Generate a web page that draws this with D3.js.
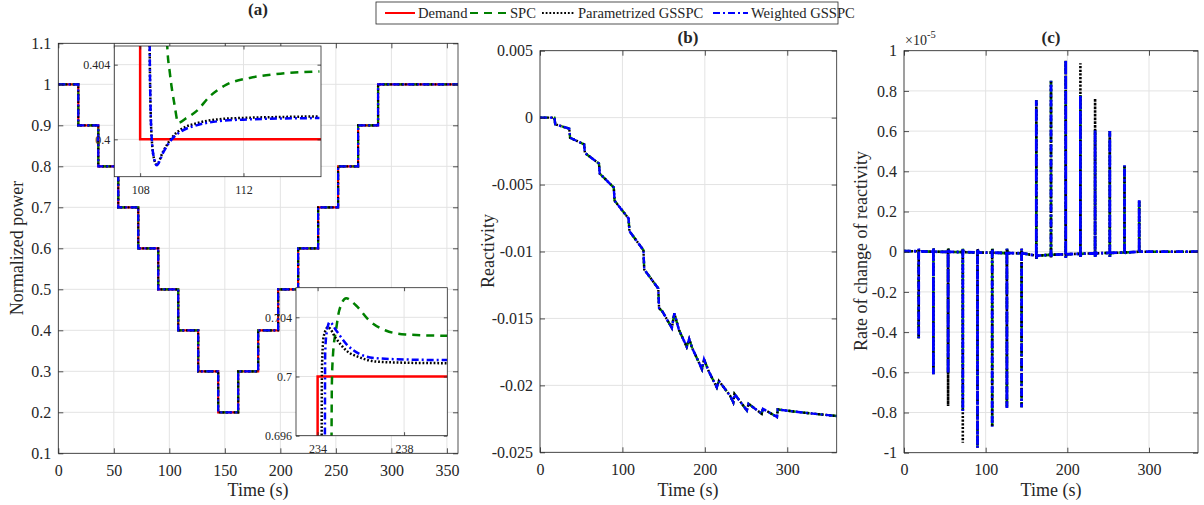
<!DOCTYPE html>
<html>
<head>
<meta charset="utf-8">
<script src="https://cdn.jsdelivr.net/npm/d3@7"></script>
<style>
  body { margin: 0; background: #fff; }
</style>
</head>
<body>
<svg id="fig" width="1204" height="505"></svg>
<script>
// ---- data ----
// (a) demand staircase: level i holds from stepTimes[i] to stepTimes[i+1]
const stepTimes = [0, 18, 36, 54, 72, 90, 108, 126, 144, 162, 180, 198, 216, 234, 252, 270, 288, 360]
const demandLevels = [1, 0.9, 0.8, 0.7, 0.6, 0.5, 0.4, 0.3, 0.2, 0.3, 0.4, 0.5, 0.6, 0.7, 0.8, 0.9, 1]

// inset 1 (around t = 108), [time, power]
const ins1Demand = [[107, 0.5], [108, 0.5], [108, 0.4], [115, 0.4]]
const ins1Spc = [[108.9, 0.43], [109.05, 0.40498], [109.15, 0.40356], [109.34, 0.40178], [109.47, 0.40089],
  [109.8, 0.40115], [110.18, 0.40151], [110.7, 0.40231], [111.34, 0.40293], [112.24, 0.40329], [113.27, 0.4035], [114.94, 0.40364]]
const ins1Param = [[108.3, 0.43], [108.38, 0.4035], [108.45, 0.4], [108.55, 0.3989], [108.64, 0.39866], [108.89, 0.39935],
  [109.22, 0.40008], [109.6, 0.40055], [110.18, 0.40086], [111.08, 0.40108], [112.24, 0.40116], [113.53, 0.4012], [114.94, 0.40123]]
const ins1Weighted = [[108.3, 0.43], [108.38, 0.4035], [108.45, 0.4], [108.55, 0.3989], [108.64, 0.39861], [108.89, 0.39929],
  [109.22, 0.4], [109.6, 0.40044], [110.18, 0.40075], [111.08, 0.40098], [112.24, 0.40107], [113.53, 0.40112], [114.94, 0.40114]]

// inset 2 (around t = 234)
const ins2Demand = [[233, 0.6], [234, 0.6], [234, 0.7], [240, 0.7]]
const ins2Spc = [[234.63, 0.69], [234.66, 0.6995], [234.71, 0.70142], [234.86, 0.70322], [235.0, 0.70446], [235.32, 0.70529],
  [235.78, 0.7048], [236.39, 0.70378], [237.15, 0.70311], [238.07, 0.70284], [240, 0.70275]]
const ins2Param = [[234.18, 0.69], [234.2, 0.7005], [234.28, 0.7027], [234.48, 0.70333], [234.86, 0.70255], [235.32, 0.70176],
  [235.93, 0.7013], [236.7, 0.70101], [238.07, 0.70093], [240, 0.7009]]
const ins2Weighted = [[234.33, 0.69], [234.35, 0.7015], [234.4, 0.70275], [234.56, 0.70367], [234.86, 0.70311], [235.32, 0.70221],
  [235.93, 0.70153], [236.7, 0.70124], [238.07, 0.70115], [240, 0.70111]]

// (b) reactivity
const reactTime = [0, 17.5, 18.5, 35.5, 36.5, 53.5, 54.5, 71.5, 72.5, 89.5, 90.5, 107.5, 108.5, 125.5, 126.5, 143.5, 144.5,
  148.5, 160, 163, 168.5, 178, 181, 184.5, 196.5, 199, 204.5, 214.5, 217, 230.5, 234.5, 236, 251, 253, 269, 270.5,
  287.5, 288.5, 320, 360]
const reactValue = [0, 0, -0.0005, -0.00082, -0.0015, -0.002, -0.00264, -0.00343, -0.00418, -0.00522, -0.0062, -0.00754,
  -0.00848, -0.0099, -0.01135, -0.01276, -0.01424, -0.01448, -0.01571, -0.01461, -0.01584, -0.01712, -0.01653, -0.01719,
  -0.01879, -0.01805, -0.01892, -0.02015, -0.01966, -0.02076, -0.02126, -0.02064, -0.02187, -0.02138, -0.02212, -0.02175,
  -0.02236, -0.0218, -0.02204, -0.02229]

// (c) rate of change of reactivity, x 1e-5
const spikeTimes = [18, 36, 54, 72, 90, 108, 126, 144, 162, 180, 198, 216, 234, 252, 270, 288]
const spikeBase = [0.002, 0, -0.001, -0.002, -0.004, -0.005, -0.007, -0.008, -0.02, -0.015, -0.013, -0.01, -0.008, -0.006, -0.004, 0]
const spikeRebound = [0.015, 0.015, 0.015, 0.015, 0.015, 0.015, 0.015, 0.015, -0.035, -0.03, -0.03, -0.025, -0.025, -0.025, -0.01, 0]
const spcPeaks = [-0.43, -0.61, -0.605, -0.793, -0.975, -0.871, -0.777, -0.774, 0.754, 0.851, 0.953, 0.779, 0.605, 0.601, 0.43, 0.256]
const paramPeaks = [-0.43, -0.61, -0.768, -0.951, -0.975, -0.871, -0.777, -0.774, 0.754, 0.851, 0.953, 0.937, 0.762, 0.601, 0.43, 0.256]
const weightedPeaks = [-0.43, -0.61, -0.605, -0.793, -0.975, -0.871, -0.777, -0.774, 0.754, 0.851, 0.953, 0.779, 0.605, 0.601, 0.43, 0.256]

const seriesNames = ["Demand", "SPC", "Parametrized GSSPC", "Weighted GSSPC"]
const seriesColors = ["#ff0000", "#008000", "#000000", "#0000ff"]
const seriesDash = [null, "8,6", "1.8,1.9", "7,3,2,3"]

// ---- drawing ----
const svg = d3.select("#fig")
const TXT = "#262626", GRID = "#e3e3e3"
const FONT = '"Liberation Serif"'

function stairs(times, levels) {
  let pts = []
  levels.forEach((v, i) => { pts.push([times[i], v], [times[i + 1], v]) })
  return pts
}

function ratePath(peaks) {
  let pts = [[0, 0.003]]
  spikeTimes.forEach((t, i) => {
    pts.push([t, spikeBase[i]], [t, peaks[i]], [t, spikeRebound[i]], [t + 1, spikeBase[i]])
  })
  pts.push([292, 0], [360, 0])
  return pts
}

let clipN = 0
function panel(o, draw) {
  const x = d3.scaleLinear().domain(o.xd).range([o.l, o.r])
  const y = d3.scaleLinear().domain(o.yd).range([o.b, o.t])
  const g = svg.append("g")
  g.append("rect").attr("x", o.l).attr("y", o.t).attr("width", o.r - o.l).attr("height", o.b - o.t).attr("fill", "#fff")

  // grid
  g.append("g").selectAll("line").data(o.xt).join("line")
    .attr("x1", d => x(d)).attr("x2", d => x(d)).attr("y1", o.t).attr("y2", o.b)
    .attr("stroke", GRID).attr("stroke-width", 1)
  g.append("g").selectAll("line").data(o.yt).join("line")
    .attr("y1", d => y(d)).attr("y2", d => y(d)).attr("x1", o.l).attr("x2", o.r)
    .attr("stroke", GRID).attr("stroke-width", 1)

  const id = "clip" + (clipN++)
  svg.append("clipPath").attr("id", id).append("rect")
    .attr("x", o.l).attr("y", o.t).attr("width", o.r - o.l).attr("height", o.b - o.t)
  const plot = g.append("g").attr("clip-path", `url(#${id})`)
  draw(plot, x, y)

  const fs = o.fs, tk = o.tick
  const style = a => {
    a.select(".domain").remove()
    a.attr("font-size", fs).attr("color", TXT)
    a.selectAll("text").attr("font-family", FONT).attr("fill", TXT)
    a.selectAll("line").attr("stroke-width", 0.8)
  }
  g.append("g").attr("transform", `translate(0,${o.b})`)
    .call(d3.axisBottom(x).tickValues(o.xt).tickSize(-tk).tickPadding(o.xpad).tickFormat(o.xf || String)).call(style)
  g.append("g").attr("transform", `translate(0,${o.t})`)
    .call(d3.axisTop(x).tickValues(o.xt).tickSize(-tk).tickFormat("")).call(style)
  g.append("g").attr("transform", `translate(${o.l},0)`)
    .call(d3.axisLeft(y).tickValues(o.yt).tickSize(-tk).tickPadding(o.ypad).tickFormat(o.yf || String)).call(style)
  g.append("g").attr("transform", `translate(${o.r},0)`)
    .call(d3.axisRight(y).tickValues(o.yt).tickSize(-tk).tickFormat("")).call(style)
  g.append("rect").attr("x", o.l).attr("y", o.t).attr("width", o.r - o.l).attr("height", o.b - o.t)
    .attr("fill", "none").attr("stroke", TXT).attr("stroke-width", 0.8)
  return { x, y, g }
}

function drawSeries(plot, x, y, data, idx, width) {
  const line = d3.line().x(d => x(d[0])).y(d => y(d[1]))
  plot.append("path").attr("d", line(data))
    .attr("fill", "none").attr("stroke", seriesColors[idx]).attr("stroke-width", width)
    .attr("stroke-dasharray", seriesDash[idx]).attr("stroke-linejoin", "miter")
}

function smooth(plot, x, y, data, idx, width) {
  const line = d3.line().x(d => x(d[0])).y(d => y(d[1])).curve(d3.curveMonotoneX)
  plot.append("path").attr("d", line(data))
    .attr("fill", "none").attr("stroke", seriesColors[idx]).attr("stroke-width", width)
    .attr("stroke-dasharray", seriesDash[idx])
}

const ticks = (a, b, s) => d3.range(Math.round((b - a) / s) + 1).map(i => +(a + i * s).toFixed(6))

// (a)
const demandStairs = stairs(stepTimes, demandLevels)
panel({ l: 58.3, r: 458, t: 43.3, b: 453.3, xd: [0, 360], yd: [0.1, 1.1],
  xt: [0, 50, 100, 150, 200, 250, 300, 350], yt: ticks(0.1, 1.1, 0.1), fs: 16, tick: 5, xpad: 11, ypad: 7 },
  (p, x, y) => { [0, 1, 2, 3].forEach(i => drawSeries(p, x, y, demandStairs, i, 2.2)) })

// inset 1
panel({ l: 114.3, r: 321, t: 46, b: 176.7, xd: [107, 115], yd: [0.398, 0.405],
  xt: [108, 112], yt: [0.4, 0.404], fs: 12, tick: 3.5, xpad: 9, ypad: 4 },
  (p, x, y) => {
    drawSeries(p, x, y, ins1Demand, 0, 2.5)
    smooth(p, x, y, ins1Spc, 1, 2.5)
    smooth(p, x, y, ins1Param, 2, 2.5)
    smooth(p, x, y, ins1Weighted, 3, 2.5)
  })

// inset 2
panel({ l: 296, r: 447.3, t: 287.7, b: 435.7, xd: [233, 240], yd: [0.696, 0.706],
  xt: [234, 238], yt: [0.696, 0.7, 0.704], fs: 12, tick: 3.5, xpad: 9, ypad: 4 },
  (p, x, y) => {
    drawSeries(p, x, y, ins2Demand, 0, 2.5)
    smooth(p, x, y, ins2Spc, 1, 2.5)
    smooth(p, x, y, ins2Param, 2, 2.5)
    smooth(p, x, y, ins2Weighted, 3, 2.5)
  })

// (b)
const react = reactTime.map((t, i) => [t, reactValue[i]])
panel({ l: 540, r: 836.7, t: 50.7, b: 452.3, xd: [0, 360], yd: [-0.025, 0.005],
  xt: [0, 100, 200, 300], yt: [-0.025, -0.02, -0.015, -0.01, -0.005, 0, 0.005], fs: 16, tick: 5, xpad: 11, ypad: 7 },
  (p, x, y) => { [1, 2, 3].forEach(i => drawSeries(p, x, y, react, i, 2.4)) })

// (c)
panel({ l: 904, r: 1198, t: 50.7, b: 452.7, xd: [0, 360], yd: [-1, 1],
  xt: [0, 100, 200, 300], yt: ticks(-1, 1, 0.2), fs: 16, tick: 5, xpad: 11, ypad: 7 },
  (p, x, y) => {
    drawSeries(p, x, y, ratePath(spcPeaks), 1, 2.6)
    drawSeries(p, x, y, ratePath(paramPeaks), 2, 2.6)
    drawSeries(p, x, y, ratePath(weightedPeaks), 3, 2.8)
  })

// titles and labels
const label = (x, y, s, size, rot, weight) => {
  const t = svg.append("text").attr("x", x).attr("y", y).attr("text-anchor", "middle")
    .attr("font-family", FONT).attr("fill", TXT).attr("font-size", size).text(s)
  if (weight) t.attr("font-weight", weight)
  if (rot) t.attr("transform", `rotate(-90,${x},${y})`)
  return t
}
label(258, 15, "(a)", 17, 0, "bold")
label(688, 43, "(b)", 17, 0, "bold")
label(1051, 43, "(c)", 17, 0, "bold")
label(258, 496, "Time (s)", 18)
label(688, 496, "Time (s)", 18)
label(1051, 496, "Time (s)", 18)
label(23, 248, "Normalized power", 18, 1)
label(494, 251, "Reactivity", 18, 1)
label(867, 251, "Rate of change of reactivity", 18, 1)

const ex = svg.append("text").attr("x", 905).attr("y", 45).attr("font-size", 14)
  .attr("font-family", FONT).attr("fill", TXT)
ex.append("tspan").text("×10")
ex.append("tspan").attr("dy", -7).attr("font-size", 10.5).text("-5")

// legend
const leg = svg.append("g")
leg.append("rect").attr("x", 376).attr("y", 2).attr("width", 462).attr("height", 22)
  .attr("fill", "#fff").attr("stroke", TXT).attr("stroke-width", 0.8)
const legLine = [[385, 415], [470, 508], [542, 575], [713, 748]]
const legText = [418, 510, 578, 751]
seriesNames.forEach((n, i) => {
  leg.append("line").attr("x1", legLine[i][0]).attr("x2", legLine[i][1]).attr("y1", 13).attr("y2", 13)
    .attr("stroke", seriesColors[i]).attr("stroke-width", 2).attr("stroke-dasharray", seriesDash[i])
  leg.append("text").attr("x", legText[i]).attr("y", 18).attr("font-size", 14.6)
    .attr("font-family", FONT).attr("fill", TXT).text(n)
})
</script>
</body>
</html>
